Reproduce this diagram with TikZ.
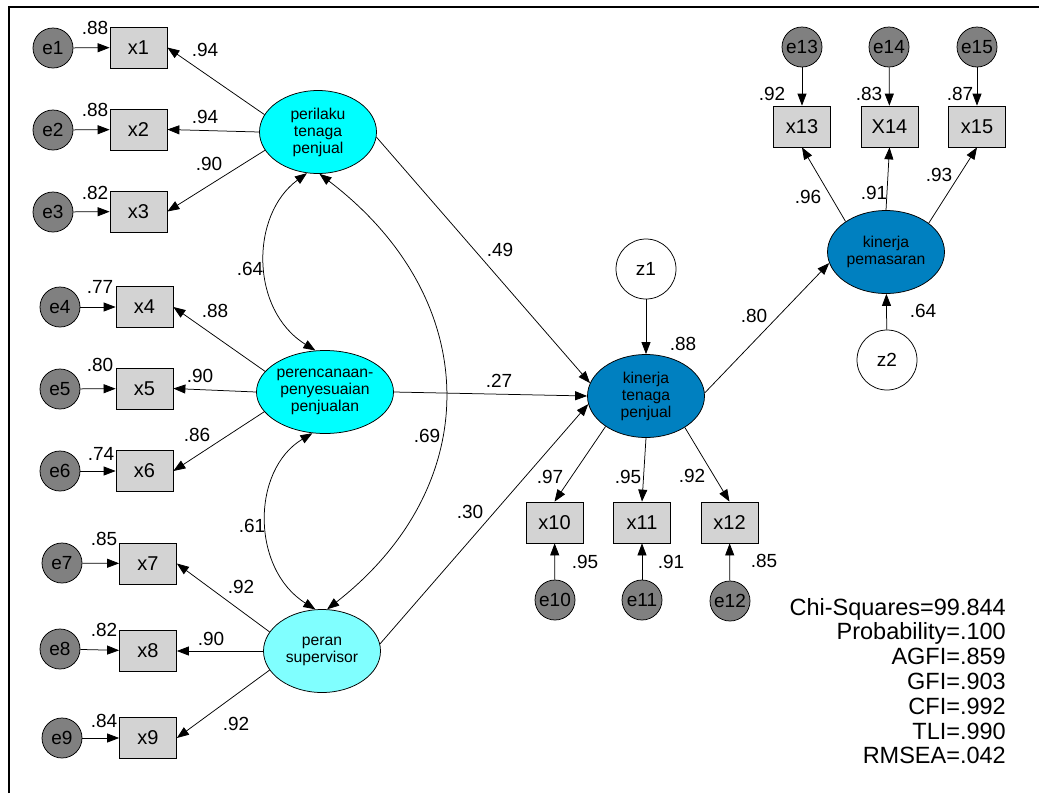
\documentclass[tikz,border=0pt]{standalone}
\usepackage{fontspec}
\setmainfont{Liberation Sans}
\usetikzlibrary{shapes.geometric,arrows.meta}
\definecolor{errgray}{HTML}{808080}
\definecolor{boxgray}{HTML}{D3D3D3}
\definecolor{exocyan}{HTML}{00FFFF}
\definecolor{exolight}{HTML}{80FFFF}
\definecolor{endoblue}{HTML}{0080C0}

\begin{document}
\begin{tikzpicture}[x=1pt,y=-1pt,
  every node/.style={inner sep=0pt},
  errc/.style={circle,draw,line width=0.75pt,fill=errgray,minimum size=40pt,font=\fontsize{19}{21}\selectfont},
  distc/.style={circle,draw,line width=0.75pt,fill=white,minimum size=60pt,font=\fontsize{19}{21}\selectfont},
  obs/.style={rectangle,draw,line width=0.75pt,fill=boxgray,minimum width=57pt,minimum height=41pt,font=\fontsize{20}{22}\selectfont},
  lat/.style={ellipse,draw,line width=0.75pt,minimum width=117pt,minimum height=83pt,align=center,font=\fontsize{15.7}{17}\selectfont},
  coef/.style={font=\fontsize{19}{21}\selectfont},
  stat/.style={anchor=base east,font=\fontsize{23.5}{25}\selectfont},
  tip/.tip={Triangle[length=12pt,width=9pt]},
  onearrow/.style={draw,line width=0.75pt,-tip},
  twoarrow/.style={draw,line width=0.75pt,tip-tip},
]
\useasboundingbox (0,0) rectangle (1039,793);

% frame
\draw[line width=1.4pt] (9,793) -- (9,7) -- (1039,7);

% latent variables
\node[lat,fill=exocyan]   (P1) at (318,132) {perilaku\\tenaga\\penjual};
\node[lat,fill=exocyan]   (P2) at (325,392) {perencanaan-\\penyesuaian\\penjualan};
\node[lat,fill=exolight]  (P3) at (322,651) {peran\\supervisor};
\node[lat,fill=endoblue]  (K1) at (646,396) {kinerja\\tenaga\\penjual};
\node[lat,fill=endoblue]  (K2) at (886,252) {kinerja\\pemasaran};

% disturbances
\node[distc] (z1) at (646,269) {z1};
\node[distc] (z2) at (887,360) {z2};

% indicators
\node[obs] (x1) at (138.5,47.5) {x1};
\node[obs] (x2) at (138.5,129.5) {x2};
\node[obs] (x3) at (138.5,211.5) {x3};
\node[obs] (x4) at (144.5,307) {x4};
\node[obs] (x5) at (144.5,388.5) {x5};
\node[obs] (x6) at (144.5,471) {x6};
\node[obs] (x7) at (148,563.5) {x7};
\node[obs] (x8) at (148,651) {x8};
\node[obs] (x9) at (148,738) {x9};
\node[obs] (x10) at (554.5,522.5) {x10};
\node[obs] (x11) at (642,522.5) {x11};
\node[obs] (x12) at (729.5,522.5) {x12};
\node[obs] (x13) at (802,126.5) {x13};
\node[obs] (x14) at (889.5,126.5) {X14};
\node[obs] (x15) at (977,126.5) {x15};

% measurement errors
\node[errc] (e1) at (53,48) {e1};
\node[errc] (e2) at (53,130) {e2};
\node[errc] (e3) at (53,212) {e3};
\node[errc] (e4) at (60,307) {e4};
\node[errc] (e5) at (60,389) {e5};
\node[errc] (e6) at (60,471) {e6};
\node[errc] (e7) at (62,563) {e7};
\node[errc] (e8) at (60,649) {e8};
\node[errc] (e9) at (62,738) {e9};
\node[errc] (e10) at (555,600) {e10};
\node[errc] (e11) at (642,600) {e11};
\node[errc] (e12) at (730,601) {e12};
\node[errc] (e13) at (802,47) {e13};
\node[errc] (e14) at (889,47) {e14};
\node[errc] (e15) at (977,47) {e15};

% error paths
\foreach \i in {1,...,15} \path[onearrow] (e\i) -- (x\i);

% loadings
\path[onearrow] (P1.162) -- (x1.east);
\path[onearrow] (P1.180) -- (x2.east);
\path[onearrow] (P1.199) -- (x3.east);
\path[onearrow] (P2.161) -- (x4.east);
\path[onearrow] (P2.180) -- (x5.east);
\path[onearrow] (P2.198) -- (x6.east);
\path[onearrow] (P3.160) -- (x7.east);
\path[onearrow] (P3.180) -- (x8.east);
\path[onearrow] (P3.200) -- (x9.east);
\path[onearrow] (K1.217) -- (x10.north);
\path[onearrow] (K1.270) -- (x11.north);
\path[onearrow] (K1.321) -- (x12.north);
\path[onearrow] (K2.143) -- (x13.south);
\path[onearrow] (K2.90)  -- (x14.south);
\path[onearrow] (K2.34)  -- (x15.south);

% structural paths
\path[onearrow] (P1.355) -- (K1.167);
\path[onearrow] (P2.0)   -- (K1.180);
\path[onearrow] (P3.7)   -- (K1.188);
\path[onearrow] (K1.3)   -- (K2.191);
\path[onearrow] (z1) -- (K1);
\path[onearrow] (z2) -- (K2);

% covariances
\path[twoarrow] (P1.255) .. controls (250,215) and (250,310) .. (P2.103);
\path[twoarrow] (P2.253) .. controls (251,470) and (251,569) .. (P3.99);
\path[twoarrow] (P1.272) .. controls (485,300) and (485,486) .. (P3.83);

% coefficients
\node[coef] (c1) at (95,28) {.88};
\node[coef] (c2) at (95,110) {.88};
\node[coef] (c3) at (95,193) {.82};
\node[coef] (c4) at (100,287) {.77};
\node[coef] (c5) at (100,365) {.80};
\node[coef] (c6) at (101,454) {.74};
\node[coef] (c7) at (104,539) {.85};
\node[coef] (c8) at (104,630) {.82};
\node[coef] (c9) at (104,721) {.84};
\node[coef] (l1) at (205,50) {.94};
\node[coef] (l2) at (205,117) {.94};
\node[coef] (l3) at (209,164) {.90};
\node[coef] (l4) at (215,311) {.88};
\node[coef] (l5) at (200,376) {.90};
\node[coef] (l6) at (197,435) {.86};
\node[coef] (l7) at (241,587) {.92};
\node[coef] (l8) at (211,639) {.90};
\node[coef] (l9) at (236,724) {.92};
\node[coef] (r1) at (250,269) {.64};
\node[coef] (r2) at (252,526) {.61};
\node[coef] (r3) at (427,436) {.69};
\node[coef] (b1) at (500,250) {.49};
\node[coef] (b2) at (499,381) {.27};
\node[coef] (b3) at (470,512) {.30};
\node[coef] (b4) at (754,316) {.80};
\node[coef] (q1) at (683,344) {.88};
\node[coef] (q2) at (923,311) {.64};
\node[coef] (l10) at (550,477) {.97};
\node[coef] (l11) at (628,477) {.95};
\node[coef] (l12) at (692,476) {.92};
\node[coef] (c10) at (585,562) {.95};
\node[coef] (c11) at (671,562) {.91};
\node[coef] (c12) at (764,561) {.85};
\node[coef] (l13) at (808,197) {.96};
\node[coef] (l14) at (874,193) {.91};
\node[coef] (l15) at (939,175) {.93};
\node[coef] (c13) at (772,94) {.92};
\node[coef] (c14) at (869,94) {.83};
\node[coef] (c15) at (960,94) {.87};

% fit statistics
\node[stat] (s1) at (1006,615)   {Chi-Squares=99.844};
\node[stat] (s2) at (1006,639.8) {Probability=.100};
\node[stat] (s3) at (1006,664.6) {AGFI=.859};
\node[stat] (s4) at (1006,689.4) {GFI=.903};
\node[stat] (s5) at (1006,714.2) {CFI=.992};
\node[stat] (s6) at (1006,739)   {TLI=.990};
\node[stat] (s7) at (1006,763.8) {RMSEA=.042};
\end{tikzpicture}
\end{document}
